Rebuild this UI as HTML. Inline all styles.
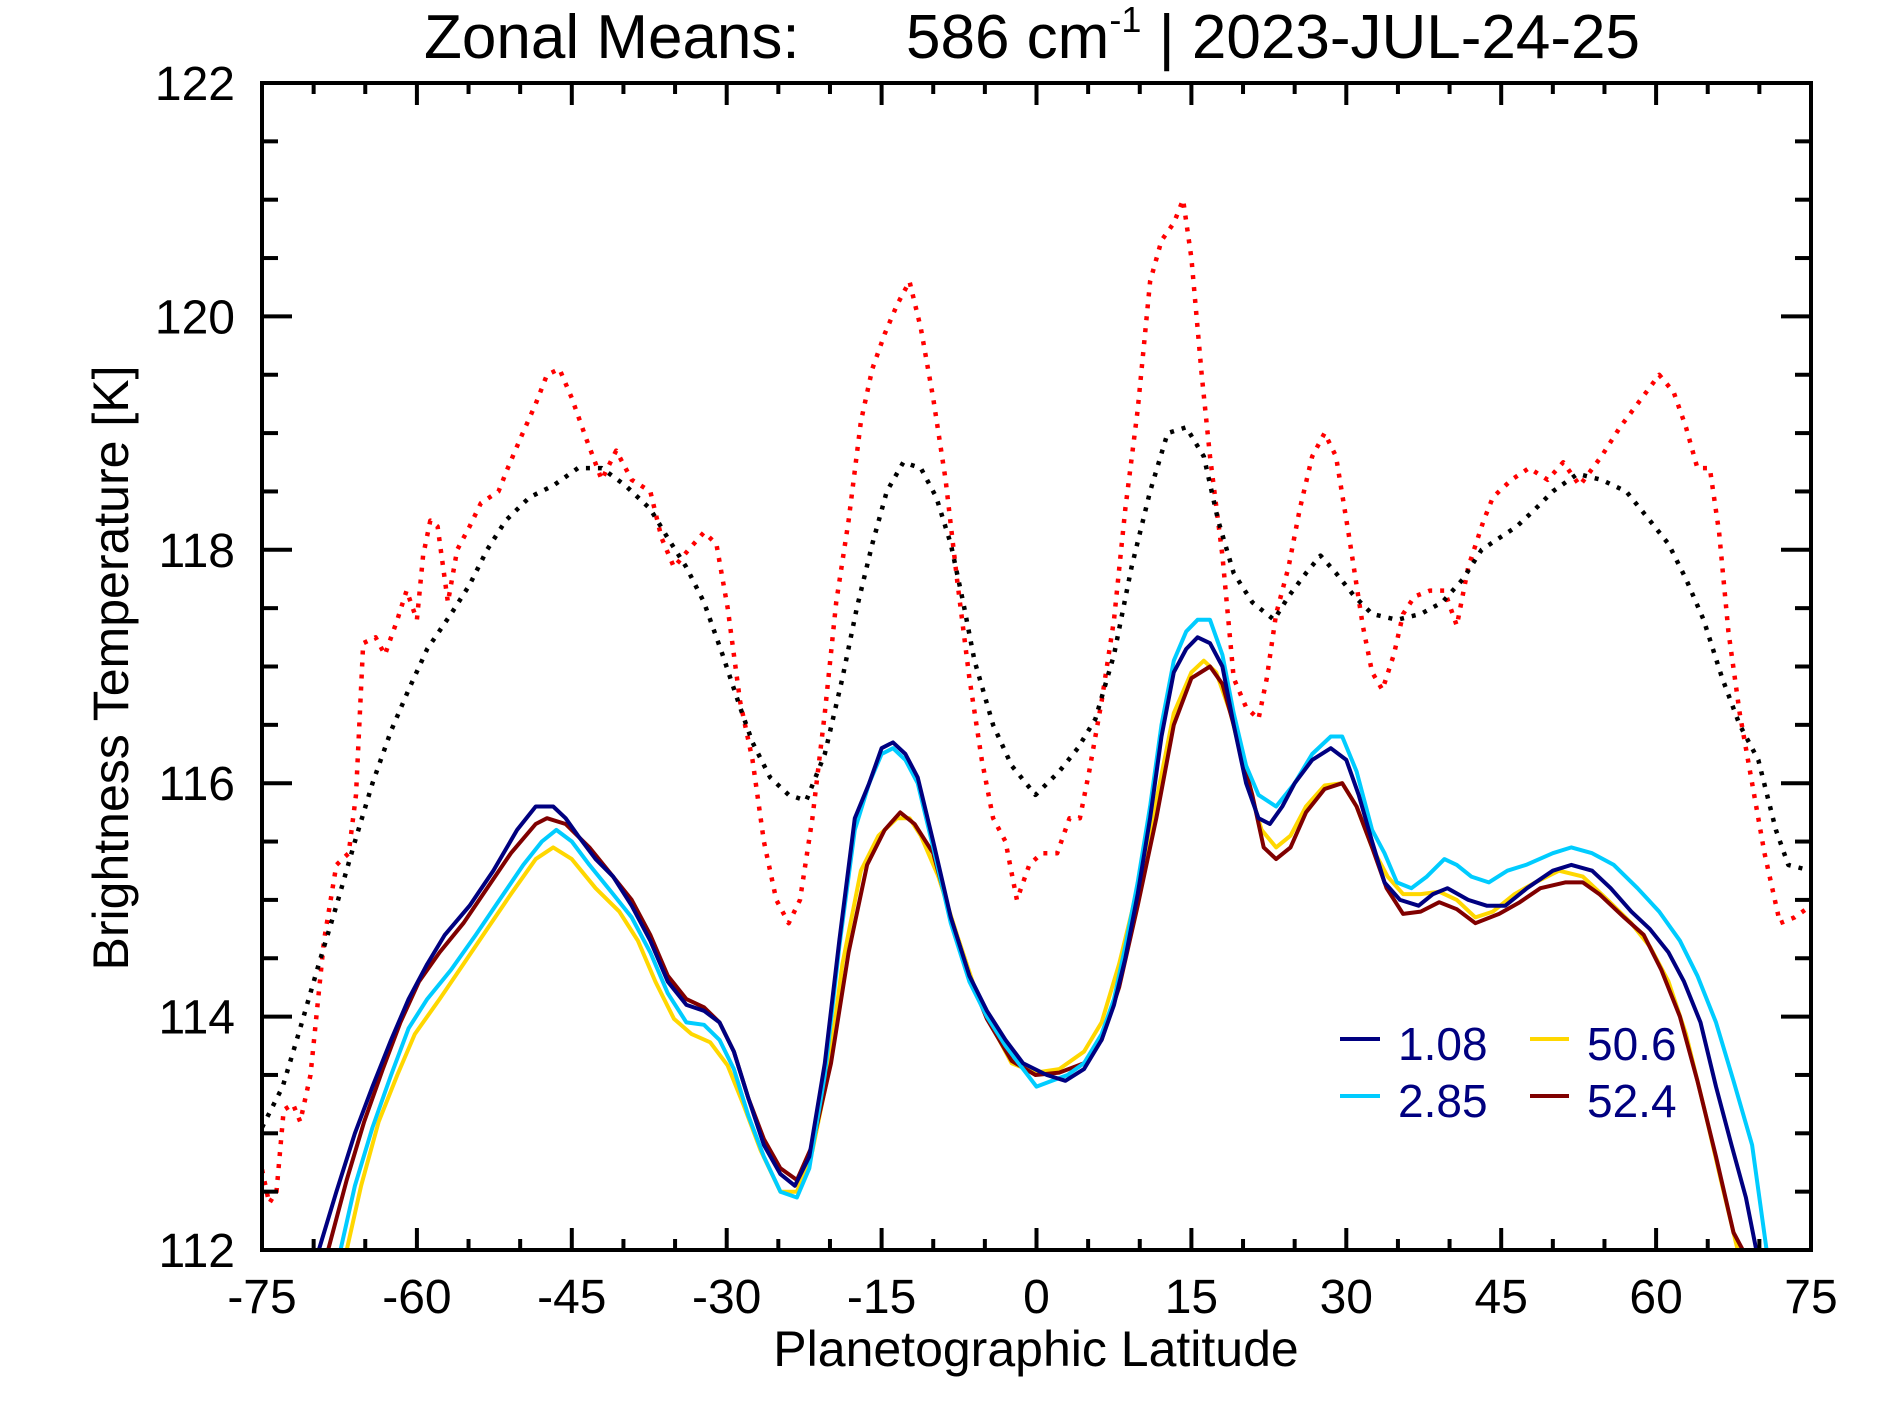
<!DOCTYPE html>
<html><head><meta charset="utf-8"><style>
html,body{margin:0;padding:0;background:#fff;}
svg{display:block;font-family:"Liberation Sans",Arial,sans-serif;}
</style></head><body>
<svg id="chart" width="1887" height="1417" viewBox="0 0 1887 1417" xmlns="http://www.w3.org/2000/svg">
<rect width="1887" height="1417" fill="#fff"/>
<defs><clipPath id="clip"><rect x="262" y="83" width="1549" height="1167"/></clipPath></defs>
<text x="424" y="58" font-size="62" fill="#000">Zonal Means:</text>
<text x="906" y="58" font-size="62" fill="#000">586 cm<tspan font-size="36" dy="-26">-1</tspan><tspan dy="26"> | 2023-JUL-24-25</tspan></text>
<g id="series" clip-path="url(#clip)"></g>
<g id="axes"></g>
<rect x="262" y="83" width="1549" height="1167" fill="none" stroke="#000" stroke-width="4"/>
<text x="1036" y="1366" font-size="50" text-anchor="middle">Planetographic Latitude</text>
<text transform="translate(128,668) rotate(-90)" font-size="50" text-anchor="middle">Brightness Temperature [K]</text>
<g font-size="46" fill="#000080">
<line x1="1340" y1="1039" x2="1380" y2="1039" stroke="#000080" stroke-width="4"/>
<text x="1398" y="1060">1.08</text>
<line x1="1340" y1="1096" x2="1380" y2="1096" stroke="#00CCFF" stroke-width="4"/>
<text x="1398" y="1117">2.85</text>
<line x1="1530" y1="1039" x2="1569" y2="1039" stroke="#FFD700" stroke-width="4"/>
<text x="1587" y="1060">50.6</text>
<line x1="1530" y1="1096" x2="1569" y2="1096" stroke="#800000" stroke-width="4"/>
<text x="1587" y="1117">52.4</text>
</g>
</svg>
<script>
const xTicks = [-75,-60,-45,-30,-15,0,15,30,45,60,75];
const yTicks = [112,114,116,118,120,122];

const redLat = [-75,-74.3,-73.6,-72.9,-72,-71.3,-70.3,-69,-67.8,-66.6,-65.9,-65.2,-64,-63.1,-61.9,-61,-60,-59.4,-58.7,-58,-57,-56.1,-54.9,-53.8,-52.1,-51.2,-50,-48.5,-47.4,-46.2,-45,-43.6,-42.1,-40.7,-39.2,-37.4,-36.3,-35.1,-33.7,-32.2,-31,-29.9,-28.7,-27.5,-26.4,-25.2,-24,-22.9,-21.7,-20.5,-19.4,-18.2,-17,-15.9,-14.7,-13.5,-12.3,-11.2,-10,-8.8,-7.7,-6.5,-5.3,-4.2,-3,-1.9,-0.7,0.5,2,3.2,4.2,5.1,6.3,7.5,8.6,9.8,11,12.1,13.3,14.2,15,16,16.8,18,19.1,20.3,21.5,22.3,23.2,24.4,25.5,26.7,27.9,29,30.2,31.6,32.5,33.5,34.6,35.5,36.6,38.1,39.5,40.7,41.8,43.3,44.2,46,47.7,49.5,51,52.6,54.7,56.5,58.2,60.3,61.7,62.9,64,65.2,66.1,67,68.1,69.3,70.5,72,73.4,75];
const redT = [112.69,112.4,112.5,113.2,113.25,113.1,113.5,114.65,115.3,115.4,115.9,117.2,117.25,117.1,117.4,117.65,117.4,117.95,118.25,118.2,117.55,118.0,118.2,118.4,118.5,118.7,118.95,119.25,119.5,119.55,119.3,118.95,118.6,118.85,118.6,118.5,118.1,117.85,118.0,118.15,118.05,117.5,116.7,116.2,115.5,115.0,114.8,115.0,115.7,116.6,117.55,118.25,119.1,119.55,119.85,120.1,120.3,119.9,119.3,118.6,117.75,116.9,116.2,115.7,115.5,115.0,115.3,115.4,115.4,115.7,115.7,116.1,116.7,117.4,118.35,119.2,120.3,120.65,120.8,121.0,120.5,119.5,118.8,117.95,116.9,116.65,116.55,116.9,117.45,117.85,118.35,118.8,119.0,118.8,118.15,117.35,116.95,116.8,117.1,117.45,117.6,117.65,117.65,117.35,117.85,118.25,118.45,118.6,118.7,118.6,118.75,118.55,118.8,119.05,119.25,119.5,119.35,119.05,118.7,118.7,118.15,117.3,116.6,116.0,115.4,114.8,114.85,114.95];

const meanLat = [-75,-73,-71.3,-69.5,-67.8,-66,-64.3,-62.5,-60.8,-59,-56.7,-54.9,-53.2,-51.4,-49.1,-46.8,-44.4,-42.1,-39.8,-37.4,-35.7,-33.9,-32.2,-30.4,-28.7,-27.5,-25.8,-24,-22.3,-20.5,-18.8,-17.4,-15.9,-14.5,-12.9,-11.2,-9.7,-8.3,-7.1,-6,-4.2,-2.4,-0.1,2.2,4,5.7,7.5,9.2,11,12.7,14.5,16.2,17.6,19.1,20.9,23,24.4,26.1,27.5,29,30.8,32.5,34.9,37.2,39.3,41.3,43.1,44.8,46.5,48.3,50,52.4,54.7,57.1,59.4,61.2,62.9,64.6,66.4,68.1,69.9,71.6,72.8,75];
const meanT = [113.05,113.4,113.9,114.45,114.95,115.5,116.0,116.45,116.8,117.15,117.45,117.7,118.0,118.25,118.45,118.55,118.7,118.7,118.55,118.35,118.1,117.85,117.55,117.1,116.65,116.35,116.05,115.9,115.85,116.25,116.9,117.5,118.05,118.5,118.75,118.7,118.45,118.05,117.55,117.05,116.5,116.15,115.9,116.1,116.3,116.55,117.1,117.85,118.5,119.0,119.05,118.8,118.25,117.8,117.55,117.4,117.6,117.8,117.95,117.8,117.6,117.45,117.4,117.45,117.55,117.75,118.0,118.1,118.2,118.35,118.5,118.65,118.6,118.5,118.25,118.05,117.75,117.4,116.9,116.5,116.2,115.6,115.3,115.25];

const navyLat = [-71,-69.5,-67.8,-66,-64.3,-62.5,-60.8,-59,-57.3,-54.9,-52.6,-50.3,-48.5,-46.8,-45.6,-44.4,-42.7,-41,-39.2,-37.4,-35.7,-33.9,-32.2,-30.7,-29.3,-27.9,-26.4,-24.8,-23.4,-22,-20.5,-19.1,-17.6,-16.2,-15,-13.9,-12.7,-11.5,-10,-8.3,-6.5,-4.8,-3,-1.3,1,2.8,4.6,6.3,7.5,8.6,9.8,11,12.1,13.3,14.5,15.6,16.8,18,19.1,20.3,21.5,22.6,23.8,25,26.7,28.5,30,31.2,32.5,33.7,35.2,37,38.4,39.8,41.8,43.6,45.4,47.5,50,51.8,53.8,55.6,57.6,59.4,61.2,62.7,64.3,65.8,67.3,68.7,69.7,71];
const navyT = [111.5,112,112.5,113,113.4,113.8,114.15,114.45,114.7,114.95,115.25,115.6,115.8,115.8,115.7,115.55,115.35,115.2,114.95,114.65,114.3,114.1,114.05,113.95,113.7,113.3,112.9,112.65,112.55,112.8,113.6,114.65,115.7,116.0,116.3,116.35,116.25,116.05,115.5,114.85,114.35,114.05,113.8,113.6,113.5,113.45,113.55,113.8,114.1,114.5,115.05,115.7,116.4,116.95,117.15,117.25,117.2,117.0,116.5,116.0,115.7,115.65,115.8,116.0,116.2,116.3,116.2,115.9,115.5,115.15,115.0,114.95,115.05,115.1,115.0,114.95,114.95,115.1,115.25,115.3,115.25,115.1,114.9,114.75,114.55,114.3,113.95,113.4,112.9,112.45,112.0,111.4];

const cyanLat = [-69,-67.4,-66,-64.3,-62.5,-60.8,-59,-56.7,-54.3,-52,-49.7,-47.9,-46.5,-45,-43.3,-41,-39.2,-37.4,-35.7,-33.9,-32.2,-30.7,-29.3,-27.9,-26.4,-24.8,-23.2,-22,-20.5,-19.1,-17.6,-16.2,-15,-13.9,-12.7,-11.5,-10,-8.3,-6.5,-4.8,-3,-1.3,0,1.5,3,4.6,6.3,7.5,8.6,9.8,11,12.1,13.3,14.5,15.6,16.8,18,19.1,20.3,21.5,23.2,25,26.7,28.5,29.6,31,32.5,33.7,34.9,36.3,37.8,39.5,40.7,42.1,43.8,45.6,47.4,50,51.8,53.8,55.9,58.2,60.3,62.3,64,65.8,67.5,69.3,70.7,72];
const cyanT = [111.4,112,112.55,113.05,113.5,113.9,114.15,114.4,114.7,115.0,115.3,115.5,115.6,115.5,115.3,115.05,114.85,114.55,114.2,113.95,113.93,113.8,113.55,113.15,112.8,112.5,112.45,112.7,113.5,114.6,115.6,116.0,116.25,116.3,116.2,116.0,115.45,114.8,114.3,114.0,113.75,113.55,113.4,113.45,113.5,113.6,113.85,114.15,114.6,115.15,115.8,116.5,117.05,117.3,117.4,117.4,117.1,116.6,116.15,115.9,115.8,116.0,116.25,116.4,116.4,116.1,115.6,115.4,115.15,115.1,115.2,115.35,115.3,115.2,115.15,115.25,115.3,115.4,115.45,115.4,115.3,115.1,114.9,114.65,114.35,113.95,113.45,112.9,112.0,111.4];

const yellowLat = [-68,-66.8,-65.4,-63.7,-61.9,-60.2,-57.8,-55.5,-53.2,-50.9,-48.5,-46.8,-45,-42.7,-40.4,-38.6,-36.9,-35.1,-33.4,-31.6,-29.9,-28.4,-26.7,-24.8,-23.2,-21.7,-20.2,-18.8,-17,-15.3,-13.5,-12.3,-11.2,-9.5,-7.7,-6,-4.2,-2.4,-0.1,2.2,4.6,6.3,8,9.8,11.6,13.3,15,16.2,17.4,18.8,20.3,21.8,23.2,24.6,26.1,27.9,29.6,31,32.5,34,35.5,37.2,39,40.7,42.5,44.2,46.3,48.3,50.6,52.9,55.3,57.6,59.4,61.2,62.9,64.7,66.4,67.9,69];
const yellowT = [111.5,112,112.55,113.1,113.5,113.85,114.15,114.45,114.75,115.05,115.35,115.45,115.35,115.1,114.9,114.65,114.3,113.98,113.85,113.78,113.58,113.25,112.85,112.5,112.5,112.85,113.5,114.45,115.25,115.55,115.7,115.7,115.55,115.2,114.7,114.25,113.9,113.6,113.52,113.55,113.7,113.95,114.45,115.1,115.85,116.6,116.95,117.05,116.95,116.6,116.05,115.6,115.45,115.55,115.8,115.98,116.0,115.8,115.45,115.2,115.05,115.05,115.07,115.0,114.85,114.9,115.05,115.15,115.25,115.2,115.0,114.8,114.6,114.3,113.85,113.2,112.55,112.0,111.5];

const maroonLat = [-70,-68.6,-66.8,-65.1,-63.3,-61.6,-59.8,-57.8,-55.5,-53.2,-50.9,-48.5,-47.4,-45.6,-43.3,-41,-39.2,-37.4,-35.7,-33.9,-32.2,-30.7,-29.3,-27.9,-26.4,-24.8,-23.2,-21.7,-19.9,-18.2,-16.4,-14.7,-13.2,-11.8,-10,-8.3,-6.5,-4.8,-2.4,-0.1,2.2,4.6,6.3,8,9.8,11.6,13.3,15,16.8,18,19.1,20.9,22,23.2,24.6,26.1,27.9,29.6,31,32.5,33.9,35.5,37.2,39,40.7,42.5,44.8,46.8,48.8,51.2,52.9,54.5,56.9,58.8,60.5,62.3,64,65.8,67.5,68.4,69.5];
const maroonT = [111.4,112,112.6,113.1,113.55,113.95,114.3,114.55,114.8,115.1,115.4,115.65,115.7,115.65,115.45,115.2,115.0,114.7,114.35,114.15,114.08,113.95,113.7,113.3,112.95,112.7,112.6,112.9,113.6,114.55,115.3,115.6,115.75,115.65,115.4,114.85,114.35,113.98,113.62,113.5,113.52,113.6,113.8,114.25,114.95,115.7,116.5,116.9,117.0,116.85,116.5,115.9,115.45,115.35,115.45,115.75,115.95,116.0,115.8,115.45,115.1,114.88,114.9,114.98,114.92,114.8,114.88,114.98,115.1,115.15,115.15,115.05,114.85,114.7,114.4,114.0,113.45,112.8,112.15,112.0,111.5];

const X0 = 262, X1 = 1811, Y0 = 83, Y1 = 1250;
function xs(lat){ return X0 + (lat + 75) / 150 * (X1 - X0); }
function ys(t){ return Y1 - (t - 112) / 10 * (Y1 - Y0); }
const NS = 'http://www.w3.org/2000/svg';
const axes = document.getElementById('axes');
const series = document.getElementById('series');

function mk(tag, attrs, parent){
  const el = document.createElementNS(NS, tag);
  for (const k in attrs) el.setAttribute(k, attrs[k]);
  parent.appendChild(el);
  return el;
}

for (let v = -75; v <= 75; v += 5) {
  const major = v % 15 === 0;
  const L = major ? 22 : 11;
  const x = xs(v);
  const t1 = mk('line', {x1:x, y1:Y1, x2:x, y2:Y1 - L, stroke:'#000', 'stroke-width':4}, axes);
  
  
  const t2 = mk('line', {x1:x, y1:Y0, x2:x, y2:Y0 + L, stroke:'#000', 'stroke-width':4}, axes);
  
  
}
xTicks.forEach(v => {
  const t = mk('text', {x:xs(v), y:1313, 'font-size':48, 'text-anchor':'middle'}, axes);
  t.textContent = String(v);
  
  
});
for (let i = 0; i <= 20; i++) {
  const v = 112 + i * 0.5;
  const major = i % 4 === 0;
  const L = major ? 30 : 16;
  const y = ys(v);
  const t1 = mk('line', {x1:X0, y1:y, x2:X0 + L, y2:y, stroke:'#000', 'stroke-width':4}, axes);
  
  
  const t2 = mk('line', {x1:X1, y1:y, x2:X1 - L, y2:y, stroke:'#000', 'stroke-width':4}, axes);
  
  
}
yTicks.forEach(v => {
  const t = mk('text', {x:235, y:ys(v) + 17, 'font-size':48, 'text-anchor':'end'}, axes);
  t.textContent = String(v);
  
  
});

function drawLine(lats, temps, color, dotted, name){
  const d = lats.map((l, i) => (i ? 'L' : 'M') + xs(l).toFixed(1) + ',' + ys(temps[i]).toFixed(1)).join(' ');
  const attrs = {d:d, fill:'none', stroke:color, 'stroke-width':dotted ? 4.5 : 4, 'stroke-linejoin':'round'};
  if (dotted) attrs['stroke-dasharray'] = '4 8';
  const p = mk('path', attrs, series);
  
  
}
drawLine(redLat, redT, '#FF0000', true, 'series-red-dotted');
drawLine(meanLat, meanT, '#000000', true, 'series-mean-dotted');
drawLine(yellowLat, yellowT, '#FFD700', false, 'series-50.6');
drawLine(maroonLat, maroonT, '#800000', false, 'series-52.4');
drawLine(cyanLat, cyanT, '#00CCFF', false, 'series-2.85');
drawLine(navyLat, navyT, '#000080', false, 'series-1.08');
</script>
</body></html>
